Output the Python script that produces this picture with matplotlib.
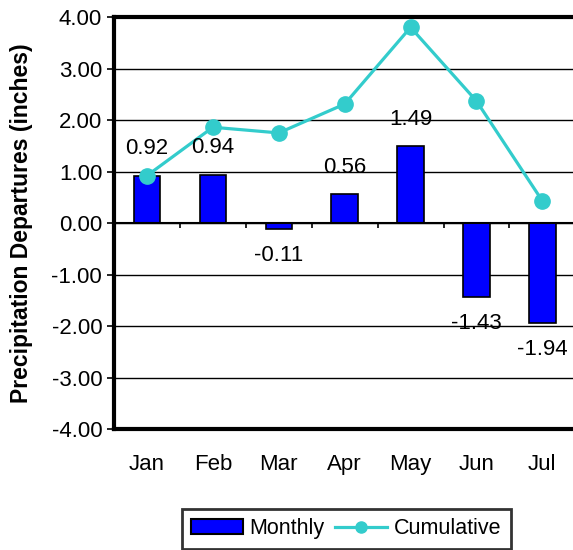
import numpy as np
import matplotlib.pyplot as plt
from matplotlib.patches import Patch
from matplotlib.lines import Line2D

plt.rcParams['font.family'] = ['Liberation Sans', 'DejaVu Sans']

months = ["Jan", "Feb", "Mar", "Apr", "May", "Jun", "Jul"]
monthly = [0.92, 0.94, -0.11, 0.56, 1.49, -1.43, -1.94]
cumulative = [0.92, 1.86, 1.75, 2.31, 3.80, 2.37, 0.43]
yticks = [-4, -3, -2, -1, 0, 1, 2, 3, 4]

fs = 16

fig = plt.figure(figsize=(5.73, 5.5), dpi=100)
ax = fig.add_axes([0.199, 0.22, 0.805, 0.749])

x = np.arange(len(months))
ax.set_yticks(yticks)
ax.yaxis.grid(True, color="black", lw=1)
ax.set_axisbelow(True)

ax.bar(x, monthly, width=0.4, color="#0000FF", edgecolor="black", lw=1.2, zorder=2)
ax.axhline(0, color="black", lw=1.5, zorder=3)
ax.vlines(x[:-1] + 0.5, -0.1, 0, color="black", lw=1.2, zorder=3)

ax.plot(x, cumulative, color="#33CCCC", lw=2.3, marker="o", ms=11, zorder=4)

for xi, v in zip(x, monthly):
    off = 0.52 if v >= 0 else -0.52
    ax.text(xi, v + off, f"{v:.2f}", ha="center", va="center", fontsize=fs, zorder=5)

ax.set_xlim(-0.5, len(months) - 0.5)
ax.set_ylim(-4, 4)
ax.set_yticklabels([f"{t:.2f}" for t in yticks], fontsize=fs)
ax.set_xticks(x)
ax.set_xticklabels(months, fontsize=fs)
ax.tick_params(axis="x", length=0, pad=18)
ax.tick_params(axis="y", length=5, width=1.2, direction="out")
ax.set_ylabel("Precipitation Departures (inches)", fontsize=16.5, fontweight="bold", labelpad=13)

for s in ["left", "bottom", "top"]:
    ax.spines[s].set_linewidth(3)
ax.spines["right"].set_visible(False)

handles = [Patch(facecolor="#0000FF", edgecolor="black", lw=1.5),
           Line2D([], [], color="#33CCCC", lw=2.3, marker="o", ms=8)]
leg = fig.legend(handles, ["Monthly", "Cumulative"], loc="upper center",
                 bbox_to_anchor=(0.604, 0.095), ncol=2, fontsize=15.5, frameon=True,
                 fancybox=False, edgecolor="black", handlelength=2.4, columnspacing=0.5,
                 handletextpad=0.3, borderpad=0.45)
leg.get_frame().set_linewidth(2)

fig.savefig("out.png", dpi=100)
